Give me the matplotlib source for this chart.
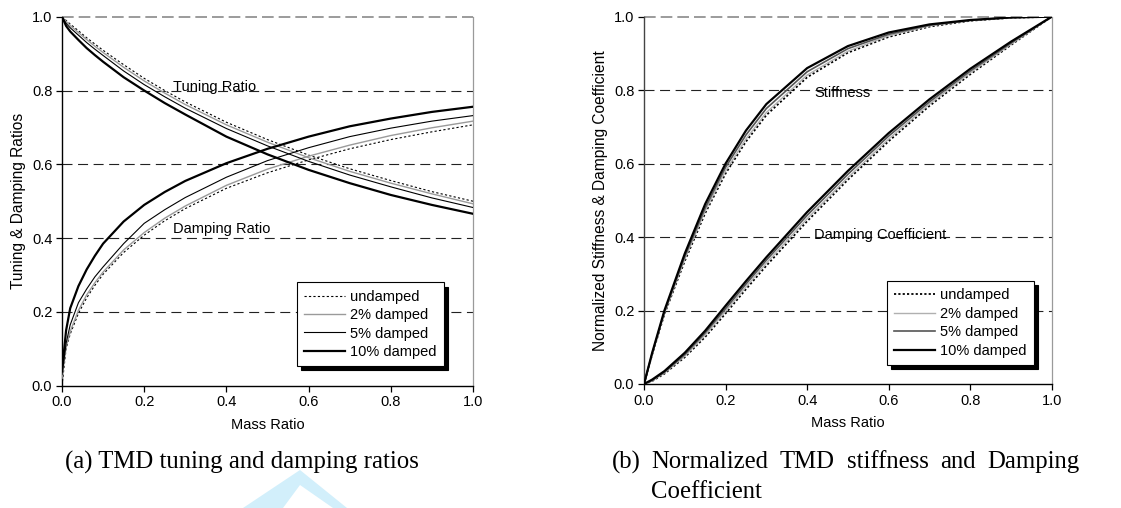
import matplotlib
matplotlib.use("Agg")
import matplotlib.pyplot as plt
from matplotlib.patches import Polygon

# ---------------- data ----------------
mass_a = [0, 0.01, 0.02, 0.04, 0.06, 0.08, 0.1, 0.15, 0.2, 0.25, 0.3, 0.4, 0.5, 0.6, 0.7, 0.8, 0.9, 1.0]

tune_undamped = [1.0, 0.990, 0.980, 0.962, 0.943, 0.926, 0.909, 0.870, 0.833, 0.800, 0.769, 0.714, 0.667, 0.625, 0.588, 0.556, 0.526, 0.500]
tune_2 = [1.0, 0.987, 0.976, 0.957, 0.938, 0.920, 0.903, 0.863, 0.826, 0.793, 0.762, 0.707, 0.660, 0.618, 0.581, 0.549, 0.520, 0.493]
tune_5 = [1.0, 0.982, 0.970, 0.950, 0.930, 0.912, 0.895, 0.853, 0.816, 0.783, 0.752, 0.697, 0.650, 0.608, 0.571, 0.539, 0.509, 0.483]
tune_10 = [1.0, 0.975, 0.960, 0.937, 0.915, 0.896, 0.878, 0.836, 0.800, 0.766, 0.735, 0.675, 0.627, 0.585, 0.549, 0.517, 0.490, 0.466]

damp_undamped = [0.0, 0.100, 0.140, 0.196, 0.238, 0.272, 0.302, 0.361, 0.408, 0.447, 0.480, 0.535, 0.577, 0.612, 0.642, 0.667, 0.688, 0.707]
damp_2 = [0.02, 0.105, 0.147, 0.204, 0.246, 0.279, 0.308, 0.368, 0.415, 0.454, 0.487, 0.543, 0.587, 0.622, 0.652, 0.678, 0.699, 0.717]
damp_5 = [0.03, 0.115, 0.165, 0.225, 0.262, 0.295, 0.322, 0.385, 0.440, 0.477, 0.510, 0.565, 0.610, 0.645, 0.675, 0.698, 0.717, 0.732]
damp_10 = [0.04, 0.150, 0.210, 0.270, 0.315, 0.352, 0.385, 0.445, 0.490, 0.525, 0.555, 0.603, 0.642, 0.675, 0.703, 0.724, 0.742, 0.756]

mass_b = [0, 0.02, 0.05, 0.1, 0.15, 0.2, 0.25, 0.3, 0.4, 0.5, 0.6, 0.7, 0.8, 0.9, 1.0]

stiff_undamped = [0, 0.080, 0.190, 0.335, 0.465, 0.573, 0.660, 0.732, 0.835, 0.902, 0.945, 0.973, 0.989, 0.997, 1.0]
stiff_2 = [0, 0.081, 0.193, 0.340, 0.471, 0.580, 0.667, 0.739, 0.841, 0.906, 0.948, 0.975, 0.990, 0.997, 1.0]
stiff_5 = [0, 0.083, 0.196, 0.347, 0.479, 0.590, 0.678, 0.750, 0.850, 0.913, 0.952, 0.977, 0.990, 0.998, 1.0]
stiff_10 = [0, 0.085, 0.200, 0.355, 0.490, 0.600, 0.690, 0.762, 0.860, 0.920, 0.957, 0.979, 0.991, 0.998, 1.0]

dcoef_undamped = [0, 0.008, 0.028, 0.073, 0.128, 0.192, 0.258, 0.322, 0.443, 0.556, 0.661, 0.757, 0.843, 0.923, 1.0]
dcoef_2 = [0, 0.009, 0.030, 0.076, 0.133, 0.198, 0.264, 0.329, 0.450, 0.562, 0.667, 0.762, 0.847, 0.925, 1.0]
dcoef_5 = [0, 0.010, 0.032, 0.080, 0.139, 0.205, 0.272, 0.337, 0.459, 0.571, 0.675, 0.768, 0.852, 0.928, 1.0]
dcoef_10 = [0, 0.012, 0.035, 0.085, 0.145, 0.213, 0.280, 0.345, 0.468, 0.580, 0.683, 0.775, 0.858, 0.932, 1.0]

series_labels = ["undamped", "2% damped", "5% damped", "10% damped"]
ticks = [0.0, 0.2, 0.4, 0.6, 0.8, 1.0]
tick_labels = ["0.0", "0.2", "0.4", "0.6", "0.8", "1.0"]

# ---------------- style ----------------
plt.rcParams["font.family"] = ["Liberation Sans", "DejaVu Sans"]
SANS = 10.5
YLAB = 11.2

fig = plt.figure(figsize=(11.21, 5.08), dpi=100)
axA = fig.add_axes([0.0553, 0.2407, 0.3666, 0.7264])
axB = fig.add_axes([0.5745, 0.2441, 0.3637, 0.7230])

styles_a = [
    dict(color="black", lw=0.8, ls=(0, (2, 2))),
    dict(color="#9a9a9a", lw=1.0, ls="-"),
    dict(color="black", lw=0.8, ls="-"),
    dict(color="black", lw=1.6, ls="-"),
]
styles_b = [
    dict(color="black", lw=1.3, ls=(0, (1.2, 1.2))),
    dict(color="#b0b0b0", lw=1.0, ls="-"),
    dict(color="#555555", lw=1.2, ls="-"),
    dict(color="black", lw=1.6, ls="-"),
]


def style_axes(ax, left_color):
    ax.set_xlim(0, 1)
    ax.set_ylim(0, 1)
    ax.set_xticks(ticks)
    ax.set_xticklabels(tick_labels, fontsize=SANS)
    ax.set_yticks(ticks)
    ax.set_yticklabels(tick_labels, fontsize=SANS)
    for y in ticks[1:-1]:
        ax.axhline(y, color="#222222", lw=0.8, ls=(0, (9, 5)), zorder=1)
    ax.axhline(1.0, color="#8a8a8a", lw=1.2, ls=(0, (7, 3)), zorder=1, clip_on=False)
    ax.spines["top"].set_visible(False)
    ax.spines["right"].set_color("#9a9a9a")
    ax.spines["right"].set_linewidth(0.9)
    ax.spines["left"].set_color(left_color)
    ax.spines["bottom"].set_color("black")
    ax.spines["left"].set_linewidth(1.0)
    ax.spines["bottom"].set_linewidth(1.0)
    ax.tick_params(axis="both", direction="out", length=4, width=0.9, pad=3)


style_axes(axA, "black")
style_axes(axB, "#444444")

shadow = {"ox": 3, "oy": -3, "facecolor": "black", "edgecolor": "black", "alpha": 1}


def make_legend(ax, handles, anchor):
    leg = ax.legend(handles=handles, loc="lower left", bbox_to_anchor=anchor,
                    fontsize=SANS, frameon=True, fancybox=False, shadow=shadow,
                    handlelength=2.8, handletextpad=0.35, borderpad=0.5, labelspacing=0.3,
                    borderaxespad=0)
    leg.get_frame().set_edgecolor("black")
    leg.get_frame().set_linewidth(0.8)
    leg.get_frame().set_alpha(1)
    return leg


# ---- panel (a)
tune_series = [tune_undamped, tune_2, tune_5, tune_10]
damp_series = [damp_undamped, damp_2, damp_5, damp_10]
handles_a = []
for s, t, d, lab in zip(styles_a, tune_series, damp_series, series_labels):
    h, = axA.plot(mass_a, t, label=lab, zorder=3, **s)
    axA.plot(mass_a, d, zorder=3, **s)
    handles_a.append(h)

axA.set_xlabel("Mass Ratio", fontsize=SANS, labelpad=6)
axA.set_ylabel("Tuning & Damping Ratios", fontsize=YLAB, labelpad=4)
axA.text(0.271, 0.810, "Tuning Ratio", fontsize=SANS, va="center", ha="left", zorder=4)
axA.text(0.271, 0.424, "Damping Ratio", fontsize=SANS, va="center", ha="left", zorder=4)
make_legend(axA, handles_a, (0.571, 0.053))

# ---- panel (b)
stiff_series = [stiff_undamped, stiff_2, stiff_5, stiff_10]
dcoef_series = [dcoef_undamped, dcoef_2, dcoef_5, dcoef_10]
handles_b = []
for s, k, c, lab in zip(styles_b, stiff_series, dcoef_series, series_labels):
    h, = axB.plot(mass_b, k, label=lab, zorder=3, **s)
    axB.plot(mass_b, c, zorder=3, **s)
    handles_b.append(h)

axB.set_xlabel("Mass Ratio", fontsize=SANS, labelpad=6)
axB.set_ylabel("Normalized Stiffness & Damping Coefficient", fontsize=YLAB, labelpad=4)
axB.text(0.417, 0.793, "Stiffness", fontsize=SANS, va="center", ha="left", zorder=4)
axB.text(0.417, 0.407, "Damping Coefficient", fontsize=SANS, va="center", ha="left", zorder=4)
make_legend(axB, handles_b, (0.595, 0.052))

# ---- watermark (faint blue shape under caption a)
W, H = 1121, 508
def fpt(x, y):
    return (x / W, 1 - y / H)
outer = Polygon([fpt(243, 508), fpt(300, 470), fpt(347, 508)], closed=True,
                transform=fig.transFigure, facecolor="#d2effb", edgecolor="none", zorder=0)
inner = Polygon([fpt(283, 508), fpt(300, 485), fpt(333, 508)], closed=True,
                transform=fig.transFigure, facecolor="white", edgecolor="none", zorder=0)
fig.patches.extend([outer, inner])

# ---- captions
SERIF = ["Liberation Serif", "DejaVu Serif"]
CAP = 17.8
fig.text(65 / W, 1 - 462 / H, "(a) TMD tuning and damping ratios", family=SERIF, fontsize=CAP,
         va="center", ha="left", zorder=5)
fig.text(612 / W, 1 - 462 / H, "(b)", family=SERIF, fontsize=CAP, va="center", ha="left", zorder=5)

words = ["Normalized", "TMD", "stiffness", "and", "Damping"]
left_px, right_px = 651, 1080
fig.canvas.draw()
renderer = fig.canvas.get_renderer()
tmp = [fig.text(0, 0, w, family=SERIF, fontsize=CAP) for w in words]
widths = [t.get_window_extent(renderer).width for t in tmp]
for t in tmp:
    t.remove()
gap = (right_px - left_px - sum(widths)) / (len(words) - 1)
x = left_px
for w, wd in zip(words, widths):
    fig.text(x / W, 1 - 462 / H, w, family=SERIF, fontsize=CAP, va="center", ha="left", zorder=5)
    x += wd + gap
fig.text(left_px / W, 1 - 492 / H, "Coefficient", family=SERIF, fontsize=CAP, va="center",
         ha="left", zorder=5)

fig.savefig("out.png", dpi=100, facecolor="white")
